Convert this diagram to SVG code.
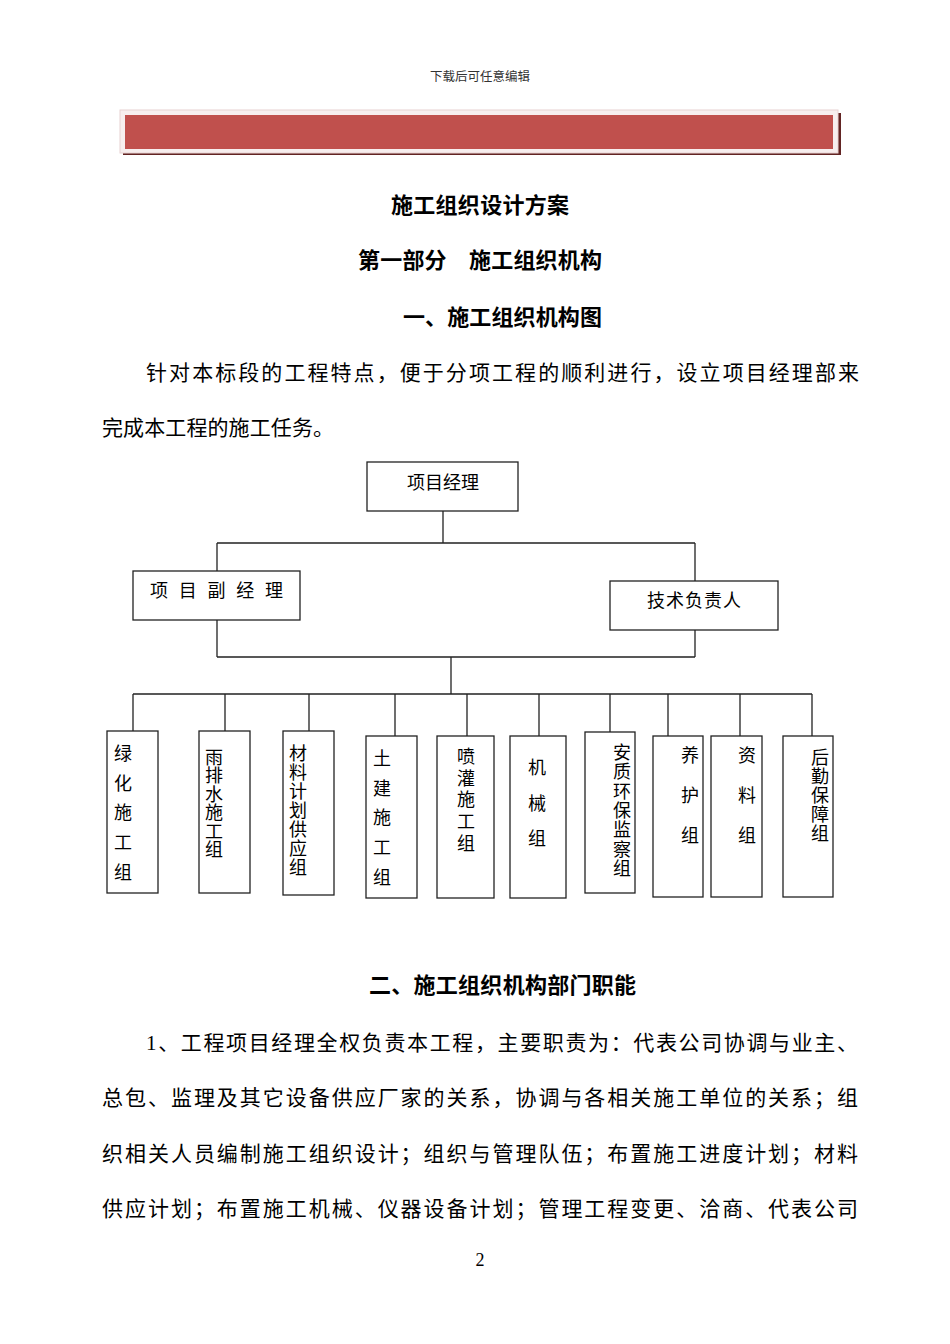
<svg xmlns="http://www.w3.org/2000/svg" width="950" height="1344" viewBox="0 0 950 1344">
<style>
.t{font-family:"Liberation Serif","Noto Sans CJK SC",serif;fill:#000}
.h{font-size:22px;font-weight:bold}
.b{font-size:21px}
.n{font-size:18px}
.v{font-size:18px;text-anchor:middle}
.box{fill:#fff;stroke:#222;stroke-width:1.3}
.ln{fill:none;stroke:#222;stroke-width:1.3}
</style>
<rect width="950" height="1344" fill="#fff"/>
<text class="t" x="480" y="81" font-size="12.5" text-anchor="middle" style="fill:#333">下载后可任意编辑</text>
<g id="banner">
<rect x="123" y="113" width="718" height="42" fill="#622423"/>
<rect x="120" y="110" width="718" height="43" fill="#F7EEEE" stroke="#E8D2D2" stroke-width="1"/>
<rect x="125" y="115" width="708" height="34" fill="#C0504D"/>
</g>
<text class="t h" x="391" y="213" textLength="178" lengthAdjust="spacing">施工组织设计方案</text>
<text class="t h" x="358" y="268" textLength="244" lengthAdjust="spacing">第一部分　施工组织机构</text>
<text class="t h" x="403" y="325" textLength="199" lengthAdjust="spacing">一、施工组织机构图</text>
<text class="t b" x="146" y="380" textLength="713" lengthAdjust="spacing">针对本标段的工程特点，便于分项工程的顺利进行，设立项目经理部来</text>
<text class="t b" x="102" y="435" textLength="232" lengthAdjust="spacing">完成本工程的施工任务。</text>

<g id="connectors">
<path class="ln" d="M443 511 V543 M217 543 H695 M217 543 V571 M695 543 V581"/>
<path class="ln" d="M217 620 V657 M695 630 V657 M217 657 H695 M451 657 V694"/>
<path class="ln" d="M133 694 H812 M133 694 V731 M225 694 V731 M309 694 V731 M395 694 V736 M467 694 V736 M539 694 V736 M610 694 V732 M668 694 V736 M740 694 V736 M812 694 V736"/>
</g>

<g id="pm">
<rect class="box" x="367" y="462" width="151" height="49"/>
<text class="t n" x="443" y="489" text-anchor="middle">项目经理</text>
</g>
<g id="deputy">
<rect class="box" x="133" y="571" width="167" height="49"/>
<text class="t n" x="150" y="597" textLength="133" lengthAdjust="spacing">项 目 副 经 理</text>
</g>
<g id="tech">
<rect class="box" x="610" y="581" width="168" height="49"/>
<text class="t n" x="647" y="607" textLength="94" lengthAdjust="spacing">技术负责人</text>
</g>

<g id="g1">
<rect class="box" x="107" y="731" width="51" height="162"/>
<text class="t v"><tspan x="123" y="760">绿</tspan><tspan x="123" y="790">化</tspan><tspan x="123" y="819">施</tspan><tspan x="123" y="849">工</tspan><tspan x="123" y="879">组</tspan></text>
</g>
<g id="g2">
<rect class="box" x="199" y="731" width="51" height="162"/>
<text class="t v"><tspan x="214" y="764">雨</tspan><tspan x="214" y="782.4">排</tspan><tspan x="214" y="800.8">水</tspan><tspan x="214" y="819.2">施</tspan><tspan x="214" y="837.6">工</tspan><tspan x="214" y="856">组</tspan></text>
</g>
<g id="g3">
<rect class="box" x="283" y="731" width="51" height="164"/>
<text class="t v"><tspan x="298" y="760">材</tspan><tspan x="298" y="779">料</tspan><tspan x="298" y="798">计</tspan><tspan x="298" y="817">划</tspan><tspan x="298" y="836">供</tspan><tspan x="298" y="855">应</tspan><tspan x="298" y="874">组</tspan></text>
</g>
<g id="g4">
<rect class="box" x="366" y="736" width="51" height="162"/>
<text class="t v"><tspan x="382" y="765">土</tspan><tspan x="382" y="795">建</tspan><tspan x="382" y="824">施</tspan><tspan x="382" y="854">工</tspan><tspan x="382" y="884">组</tspan></text>
</g>
<g id="g5">
<rect class="box" x="437" y="736" width="57" height="162"/>
<text class="t v"><tspan x="466" y="763">喷</tspan><tspan x="466" y="785">灌</tspan><tspan x="466" y="806">施</tspan><tspan x="466" y="828">工</tspan><tspan x="466" y="850">组</tspan></text>
</g>
<g id="g6">
<rect class="box" x="510" y="736" width="56" height="162"/>
<text class="t v"><tspan x="537" y="774">机</tspan><tspan x="537" y="810">械</tspan><tspan x="537" y="845">组</tspan></text>
</g>
<g id="g7">
<rect class="box" x="585" y="732" width="50" height="161"/>
<text class="t v"><tspan x="622" y="759">安</tspan><tspan x="622" y="778.3">质</tspan><tspan x="622" y="797.7">环</tspan><tspan x="622" y="817">保</tspan><tspan x="622" y="836.3">监</tspan><tspan x="622" y="855.7">察</tspan><tspan x="622" y="875">组</tspan></text>
</g>
<g id="g8">
<rect class="box" x="653" y="736" width="50" height="161"/>
<text class="t v"><tspan x="690" y="762">养</tspan><tspan x="690" y="802">护</tspan><tspan x="690" y="842">组</tspan></text>
</g>
<g id="g9">
<rect class="box" x="711" y="736" width="51" height="161"/>
<text class="t v"><tspan x="747" y="762">资</tspan><tspan x="747" y="802">料</tspan><tspan x="747" y="842">组</tspan></text>
</g>
<g id="g10">
<rect class="box" x="783" y="736" width="50" height="161"/>
<text class="t v"><tspan x="820" y="764">后</tspan><tspan x="820" y="783">勤</tspan><tspan x="820" y="802">保</tspan><tspan x="820" y="821">障</tspan><tspan x="820" y="840">组</tspan></text>
</g>

<text class="t h" x="369" y="993" textLength="267" lengthAdjust="spacing">二、施工组织机构部门职能</text>
<text class="t b" x="146" y="1050" textLength="712" lengthAdjust="spacing">1、工程项目经理全权负责本工程，主要职责为：代表公司协调与业主、</text>
<text class="t b" x="102" y="1105" textLength="756" lengthAdjust="spacing">总包、监理及其它设备供应厂家的关系，协调与各相关施工单位的关系；组</text>
<text class="t b" x="102" y="1161" textLength="756" lengthAdjust="spacing">织相关人员编制施工组织设计；组织与管理队伍；布置施工进度计划；材料</text>
<text class="t b" x="102" y="1216" textLength="756" lengthAdjust="spacing">供应计划；布置施工机械、仪器设备计划；管理工程变更、洽商、代表公司</text>
<text class="t" x="480" y="1266" font-size="18" text-anchor="middle">2</text>
</svg>
